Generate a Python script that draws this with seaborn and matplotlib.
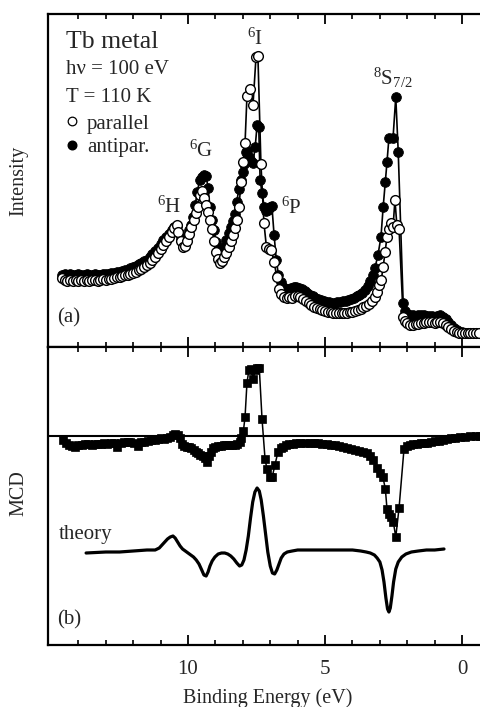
import numpy as np
import pandas as pd
import matplotlib
matplotlib.use("Agg")
import matplotlib.pyplot as plt
from matplotlib.ticker import FixedLocator, NullFormatter
from matplotlib.lines import Line2D
import seaborn as sns

# ---------------- data ----------------
par_E = [14.60, 14.50, 14.40, 14.30, 14.20, 14.10, 14.00, 13.90, 13.80, 13.70, 13.60, 13.50, 13.40, 13.30,
         13.20, 13.10, 13.00, 12.90, 12.80, 12.70, 12.60, 12.50, 12.40, 12.30, 12.20, 12.10, 12.00, 11.90,
         11.80, 11.70, 11.60, 11.50, 11.40, 11.30, 11.20, 11.10, 11.00, 10.90, 10.80, 10.70, 10.60, 10.50,
         10.42, 10.35, 10.27, 10.20, 10.12, 10.04, 9.96, 9.88, 9.80, 9.72, 9.64, 9.57, 9.49, 9.42, 9.34,
         9.27, 9.20, 9.12, 9.05, 8.98, 8.90, 8.83, 8.76, 8.68, 8.60, 8.52, 8.45, 8.37, 8.30, 8.22, 8.14,
         8.07, 7.99, 7.92, 7.85, 7.74, 7.63, 7.52, 7.45, 7.34, 7.23, 7.14, 7.05, 6.96, 6.86, 6.76, 6.68,
         6.60, 6.50, 6.40, 6.30, 6.20, 6.10, 6.00, 5.90, 5.80, 5.70, 5.60, 5.50, 5.40, 5.30, 5.20, 5.10,
         5.00, 4.90, 4.80, 4.70, 4.60, 4.50, 4.40, 4.30, 4.20, 4.10, 4.00, 3.90, 3.80, 3.70, 3.60, 3.50,
         3.40, 3.30, 3.18, 3.10, 3.02, 2.95, 2.88, 2.81, 2.74, 2.67, 2.60, 2.52, 2.45, 2.38, 2.30, 2.15,
         2.08, 2.00, 1.90, 1.80, 1.70, 1.60, 1.50, 1.40, 1.30, 1.20, 1.10, 1.00, 0.90, 0.80, 0.70, 0.60,
         0.50, 0.40, 0.30, 0.20, 0.10, 0.00, -0.10, -0.20, -0.30, -0.40, -0.50, -0.60]
par_I = [69, 67, 66, 67, 66, 67, 66, 67, 66, 67, 66, 67, 67, 66,
         67, 68, 67, 68, 68, 69, 70, 70, 71, 72, 72, 73, 74, 75,
         77, 78, 80, 82, 84, 87, 90, 94, 98, 102, 106, 110, 115, 119,
         122, 115, 106, 100, 101, 106, 113, 120, 127, 134, 140, 152, 156, 149, 142,
         135, 127, 118, 106, 95, 88, 84, 86, 90, 94, 100, 106, 112, 119, 127, 140,
         165, 185, 204, 251, 258, 242, 290, 291, 183, 124, 100, 98, 97, 85, 70, 58,
         53, 50, 49, 50, 49, 51, 51, 50, 48, 46, 44, 42, 40, 39, 38, 37,
         36, 35, 35, 34, 34, 34, 34, 34, 34, 35, 35, 36, 37, 38, 40, 41,
         43, 46, 50, 55, 62, 67, 80, 95, 110, 118, 124, 120, 147, 122, 118, 30,
         26, 24, 22, 22, 23, 23, 24, 24, 25, 25, 25, 24, 25, 25, 24, 22,
         20, 18, 16, 15, 14, 14, 14, 14, 14, 14, 14, 14]

anti_E = [14.60, 14.50, 14.40, 14.30, 14.20, 14.10, 14.00, 13.90, 13.80, 13.70, 13.60, 13.50, 13.40, 13.30,
          13.20, 13.10, 13.00, 12.90, 12.80, 12.70, 12.60, 12.50, 12.40, 12.30, 12.20, 12.10, 12.00, 11.90,
          11.80, 11.70, 11.60, 11.50, 11.40, 11.30, 11.20, 11.10, 11.00, 10.90, 10.80, 10.70, 10.60, 10.50,
          10.42, 10.34, 10.26, 10.18, 10.10, 10.04, 9.96, 9.90, 9.82, 9.74, 9.66, 9.58, 9.50, 9.42, 9.34,
          9.27, 9.20, 9.12, 9.05, 8.98, 8.90, 8.82, 8.75, 8.68, 8.60, 8.52, 8.45, 8.37, 8.30, 8.22, 8.15,
          8.07, 8.00, 7.96, 7.90, 7.85, 7.78, 7.70, 7.63, 7.55, 7.48, 7.42, 7.37, 7.30, 7.22, 7.15, 7.08,
          7.00, 6.94, 6.86, 6.78, 6.70, 6.62, 6.55, 6.45, 6.35, 6.25, 6.15, 6.05, 5.95, 5.85, 5.75, 5.65,
          5.55, 5.45, 5.35, 5.25, 5.15, 5.05, 4.95, 4.85, 4.75, 4.65, 4.55, 4.45, 4.35, 4.25, 4.15, 4.05,
          3.95, 3.85, 3.75, 3.65, 3.55, 3.45, 3.35, 3.25, 3.18, 3.07, 2.96, 2.88, 2.80, 2.74, 2.67, 2.52,
          2.42, 2.33, 2.15, 2.08, 2.00, 1.90, 1.80, 1.70, 1.60, 1.50, 1.40, 1.30, 1.20, 1.10, 1.00, 0.90,
          0.80, 0.70, 0.60, 0.50, 0.40, 0.30, 0.20, 0.10, 0.00]
anti_I = [72, 73, 72, 73, 72, 72, 73, 72, 72, 73, 72, 72, 73, 72,
          72, 73, 73, 73, 74, 74, 75, 75, 76, 77, 77, 79, 80, 81,
          83, 84, 86, 87, 90, 93, 96, 99, 103, 107, 110, 113, 117, 120,
          121, 114, 108, 105, 106, 110, 117, 122, 130, 142, 155, 167, 170, 172, 171,
          159, 140, 127, 117, 105, 97, 95, 97, 100, 107, 114, 120, 126, 133, 145, 158,
          167, 175, 183, 195, 196, 190, 186, 184, 200, 222, 220, 167, 154, 140, 136, 137,
          140, 141, 112, 87, 72, 65, 60, 58, 58, 59, 60, 60, 59, 58, 56, 54,
          52, 51, 49, 48, 47, 46, 45, 45, 44, 44, 45, 45, 46, 46, 47, 48,
          49, 51, 52, 54, 57, 61, 66, 72, 79, 92, 110, 140, 165, 185, 209, 209,
          250, 195, 44, 36, 33, 32, 32, 31, 32, 32, 32, 31, 31, 31, 30, 31,
          32, 30, 28, 25, 22, 19, 17, 15, 15]

mcd_E = [14.56, 14.45, 14.35, 14.25, 14.12, 14.00, 13.88, 13.76, 13.64, 13.52, 13.40, 13.30, 13.18, 13.06,
         12.94, 12.82, 12.70, 12.58, 12.46, 12.34, 12.20, 12.10, 11.98, 11.84, 11.72, 11.60, 11.47, 11.35,
         11.22, 11.10, 11.00, 10.88, 10.76, 10.66, 10.56, 10.47, 10.38, 10.30, 10.22, 10.14, 10.04, 9.95,
         9.88, 9.80, 9.72, 9.64, 9.55, 9.45, 9.38, 9.31, 9.22, 9.16, 9.08, 9.00, 8.90, 8.80, 8.70, 8.60,
         8.50, 8.40, 8.30, 8.20, 8.12, 8.05, 7.98, 7.92, 7.85, 7.78, 7.70, 7.62, 7.55, 7.48, 7.40, 7.30,
         7.19, 7.12, 7.02, 6.93, 6.83, 6.72, 6.62, 6.53, 6.42, 6.30, 6.17, 6.05, 5.90, 5.75, 5.55, 5.40,
         5.25, 5.10, 4.93, 4.78, 4.62, 4.48, 4.34, 4.20, 4.05, 3.90, 3.75, 3.60, 3.47, 3.36, 3.25, 3.10,
         2.98, 2.89, 2.80, 2.74, 2.66, 2.60, 2.51, 2.42, 2.30, 2.12, 2.00, 1.90, 1.78, 1.65, 1.50, 1.38,
         1.28, 1.15, 1.00, 0.85, 0.69, 0.55, 0.40, 0.25, 0.07, -0.10, -0.30, -0.50, -0.66]
mcd_V = [-4, -7, -9, -10, -11, -9, -9, -8, -8, -9, -8, -8, -8, -7,
         -8, -7, -7, -11, -7, -6, -6, -6, -7, -10, -6, -6, -5, -4,
         -4, -3, -2, -3, -2, -1, 1, 2, 1, -2, -8, -10, -11, -11,
         -12, -14, -16, -17, -19, -20, -22, -26, -20, -16, -12, -11, -10, -10, -9, -9,
         -9, -9, -9, -8, -6, -2, 5, 19, 53, 66, 67, 57, 66, 68, 68, 17,
         -23, -33, -41, -41, -29, -16, -12, -11, -9, -8, -8, -7, -7, -7, -7, -7,
         -7, -8, -8, -9, -9, -10, -11, -12, -13, -14, -15, -16, -17, -20, -24, -32,
         -37, -41, -53, -73, -78, -81, -86, -101, -72, -13, -10, -9, -8, -8, -7, -7,
         -7, -6, -5, -5, -4, -3, -2, -2, -1, -1, 0, 0, 0]

theo_E = [13.72, 13.00, 12.50, 12.00, 11.50, 11.20, 11.05, 10.95, 10.85, 10.75, 10.65, 10.55, 10.47, 10.38,
          10.29, 10.20, 10.10, 10.00, 9.90, 9.80, 9.70, 9.60, 9.50, 9.42, 9.34, 9.27, 9.20, 9.12, 9.02,
          8.90, 8.78, 8.66, 8.55, 8.44, 8.33, 8.22, 8.12, 8.04, 7.96, 7.88, 7.80, 7.72, 7.64, 7.56, 7.48,
          7.40, 7.33, 7.25, 7.17, 7.09, 7.00, 6.92, 6.84, 6.76, 6.68, 6.60, 6.50, 6.38, 6.20, 6.00, 5.50,
          5.00, 4.50, 4.00, 3.70, 3.50, 3.35, 3.20, 3.10, 3.00, 2.92, 2.85, 2.78, 2.72, 2.67, 2.62, 2.56,
          2.50, 2.42, 2.33, 2.20, 2.05, 1.85, 1.60, 1.30, 1.00, 0.66]
theo_V = [-117, -116, -116, -115, -114, -114, -112, -109, -106, -103, -101, -100, -102, -106,
          -110, -113, -115, -117, -119, -121, -124, -128, -134, -139, -140, -136, -130, -125, -121,
          -118, -117, -117, -118, -120, -123, -127, -130, -129, -124, -114, -100, -82, -66, -56, -52,
          -55, -64, -80, -98, -116, -130, -137, -138, -134, -128, -122, -118, -116, -115, -114, -114,
          -114, -114, -114, -115, -116, -117, -119, -122, -126, -134, -146, -162, -173, -176, -172, -160,
          -146, -133, -126, -121, -118, -116, -115, -114, -114, -113]

xticks_major = [10, 5, 0]
xtick_labels = ["10", "5", "0"]
xticks_minor = [14, 13, 12, 11, 9, 8, 7, 6, 4, 3, 2, 1]

# ---------------- style ----------------
sns.set_theme(style="ticks")
plt.rcParams["font.family"] = ["Liberation Serif", "DejaVu Serif"]
plt.rcParams["mathtext.fontset"] = "custom"
plt.rcParams["mathtext.rm"] = "Liberation Serif"
plt.rcParams["mathtext.it"] = "Liberation Serif:italic"
plt.rcParams["mathtext.bf"] = "Liberation Serif:bold"

W, H = 481, 707
fig = plt.figure(figsize=(W / 100, H / 100), dpi=100)
fig.patch.set_facecolor("white")

left = 48 / W
right = 1.0
a_top, a_bot = 14, 347
b_top, b_bot = 347, 645
ax_a = fig.add_axes([left, 1 - a_bot / H, right - left, (a_bot - a_top) / H])
ax_b = fig.add_axes([left, 1 - b_bot / H, right - left, (b_bot - b_top) / H])

xlim = (15.11, -0.69)

df_par = pd.DataFrame({"E": par_E, "I": par_I})
df_anti = pd.DataFrame({"E": anti_E, "I": anti_I})
df_mcd = pd.DataFrame({"E": mcd_E, "V": mcd_V})
df_theo = pd.DataFrame({"E": theo_E, "V": theo_V})

MS = 7.0

# panel (a)
sns.lineplot(data=df_anti, x="E", y="I", ax=ax_a, color="black", lw=1.2, marker="o",
             markersize=MS, markerfacecolor="black", markeredgecolor="black",
             markeredgewidth=0.6, estimator=None, sort=False, legend=False)
sns.lineplot(data=df_par, x="E", y="I", ax=ax_a, color="black", lw=1.2, marker="o",
             markersize=MS, markerfacecolor="white", markeredgecolor="black",
             markeredgewidth=1.0, estimator=None, sort=False, legend=False)

# panel (b)
ax_b.axhline(0, color="black", lw=1.5, zorder=1)
sns.lineplot(data=df_mcd, x="E", y="V", ax=ax_b, color="black", lw=1.1, marker="s",
             markersize=6.0, markerfacecolor="black", markeredgecolor="black",
             markeredgewidth=0.5, estimator=None, sort=False, legend=False)
sns.lineplot(data=df_theo, x="E", y="V", ax=ax_b, color="black", lw=2.3,
             estimator=None, sort=False, legend=False)

for ax in (ax_a, ax_b):
    ax.set_xlim(*xlim)
    ax.xaxis.set_major_locator(FixedLocator(xticks_major))
    ax.xaxis.set_minor_locator(FixedLocator(xticks_minor))
    ax.set_yticks([])
    ax.tick_params(axis="x", which="major", direction="in", length=7, width=1.3,
                   top=True, bottom=True, color="black")
    ax.tick_params(axis="x", which="minor", direction="in", length=3.8, width=1.2,
                   top=True, bottom=True, color="black")
    for side in ("left", "top", "bottom"):
        ax.spines[side].set_linewidth(1.6)
        ax.spines[side].set_color("black")
    ax.spines["right"].set_visible(False)
    ax.set_facecolor("white")

ax_a.set_ylim(0, 333)
ax_b.set_ylim(-209, 89)

ax_a.tick_params(axis="x", labelbottom=False)
ax_a.set_xlabel("")
ax_b.set_xticks(xticks_major)
ax_b.set_xticklabels(xtick_labels)
ax_b.tick_params(axis="x", which="major", labelsize=15, pad=11)

ax_b.set_xlabel("Binding Energy (eV)", fontsize=14.5, va="center")
ax_b.xaxis.set_label_coords((268 - 48) / 433, (645 - 698) / 298)

ax_a.set_ylabel("Intensity", fontsize=14.5, va="center")
ax_a.yaxis.set_label_coords((19 - 48) / 433, 0.5)
ax_b.set_ylabel("MCD", fontsize=14.5, va="center")
ax_b.yaxis.set_label_coords((19 - 48) / 433, (645 - 493) / 298)

# annotation texts
def fx(px):
    return px / W

def fy(py):
    return 1 - py / H

fig.text(fx(66), fy(42), "Tb metal", fontsize=18.5, ha="left", va="center")
fig.text(fx(66), fy(70), "hν = 100 eV", fontsize=15, ha="left", va="center")
fig.text(fx(66), fy(98), "T = 110 K", fontsize=15, ha="left", va="center")

handles = [Line2D([], [], ls="none", marker="o", markersize=6.2, markerfacecolor="white",
                  markeredgecolor="black", markeredgewidth=0.9),
           Line2D([], [], ls="none", marker="o", markersize=6.2, markerfacecolor="black",
                  markeredgecolor="black")]
leg = ax_a.legend(handles, ["parallel", "antipar."], loc="upper left",
                  bbox_to_anchor=(fx(65), fy(114)), bbox_transform=fig.transFigure,
                  frameon=False, fontsize=15, handlelength=0.7, handletextpad=0.35,
                  labelspacing=0.2, borderpad=0, borderaxespad=0)

ax_a.text(7.55, 302, r"$^{6}$I", fontsize=15, ha="center", va="baseline")
ax_a.text(9.53, 190, r"$^{6}$G", fontsize=15, ha="center", va="baseline")
ax_a.text(10.70, 134, r"$^{6}$H", fontsize=15, ha="center", va="baseline")
ax_a.text(6.24, 133, r"$^{6}$P", fontsize=15, ha="center", va="baseline")
ax_a.text(2.52, 262, r"$^{8}$S$_{7/2}$", fontsize=15, ha="center", va="baseline")

fig.text(fx(57), fy(318), "(a)", fontsize=15, ha="left", va="center")
fig.text(fx(57), fy(620), "(b)", fontsize=15, ha="left", va="center")
fig.text(fx(59), fy(535), "theory", fontsize=15, ha="left", va="center")

fig.savefig("out.png", dpi=100, facecolor="white")
